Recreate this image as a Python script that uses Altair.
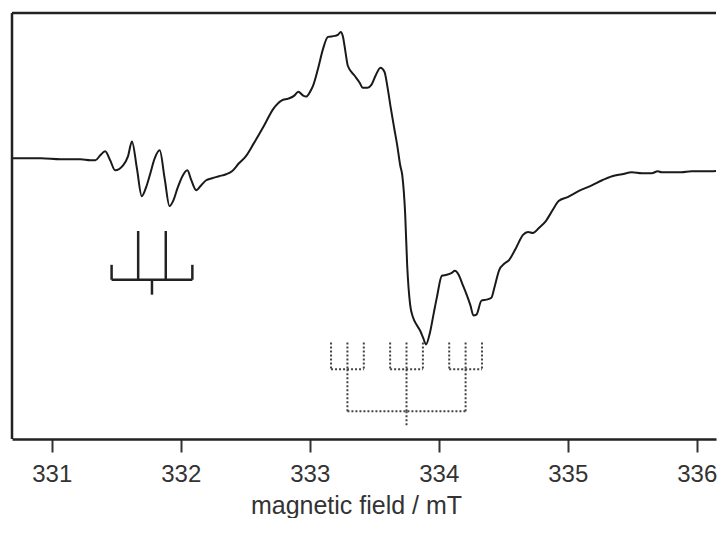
import altair as alt
import pandas as pd

# EPR spectrum: field (mT) and derivative intensity (arb. units)
field_mT = [
    330.693, 330.916, 331.069, 331.223, 331.299, 331.338, 331.376, 331.414, 331.453, 331.491,
    331.553, 331.591, 331.622, 331.660, 331.698, 331.729, 331.760, 331.798, 331.837, 331.875,
    331.913, 331.944, 331.975, 332.013, 332.051, 332.082, 332.120, 332.159, 332.197, 332.243,
    332.297, 332.351, 332.397, 332.451, 332.504, 332.566, 332.642, 332.719, 332.781, 332.834,
    332.880, 332.911, 332.949, 332.972, 333.003, 333.026, 333.064, 333.103, 333.141, 333.195,
    333.218, 333.241, 333.256, 333.279, 333.295, 333.348, 333.387, 333.410, 333.448, 333.479,
    333.510, 333.548, 333.579, 333.602, 333.625, 333.655, 333.678, 333.701, 333.717, 333.740,
    333.755, 333.778, 333.801, 333.832, 333.855, 333.878, 333.901, 333.932, 333.962, 333.985,
    334.024, 334.062, 334.101, 334.124, 334.154, 334.185, 334.216, 334.246, 334.269, 334.292,
    334.331, 334.369, 334.408, 334.431, 334.469, 334.507, 334.546, 334.599, 334.653, 334.692,
    334.730, 334.776, 334.830, 334.883, 334.929, 334.999, 335.083, 335.190, 335.267, 335.344,
    335.421, 335.497, 335.574, 335.651, 335.697, 335.728, 335.804, 335.881, 335.958, 336.035,
    336.111, 336.188,
]
intensity = [
    0, 0, -1, -1, -2, -2, 3, 7, -2, -12,
    -7, 2, 17, -10, -38, -30, -17, 0, 8, -20,
    -48, -42, -30, -18, -12, -22, -32, -27, -22, -20,
    -18, -16, -13, -5, 2, 15, 32, 50, 58, 60,
    63, 67, 63, 62, 67, 73, 90, 110, 122, 123,
    124, 127, 123, 105, 93, 83, 76, 71, 71, 74,
    83, 91, 87, 72, 53, 30, 13, -7, -17, -57,
    -107, -147, -160, -168, -173, -180, -187, -175, -155, -140,
    -118, -117, -115, -113, -117, -127, -137, -148, -158, -157,
    -143, -142, -140, -130, -112, -106, -102, -90, -77, -74,
    -75, -70, -63, -52, -43, -39, -33, -27, -22, -18,
    -16, -14, -15, -15, -13, -14, -14, -14, -13, -13,
    -13, -12,
]

# Solid stick diagram (left signal)
solid_x1 = [331.464, 331.464, 332.090, 331.670, 331.884, 331.777]
solid_x2 = [332.090, 331.464, 332.090, 331.670, 331.884, 331.777]
solid_y1 = [-122, -107, -107, -73, -73, -122]
solid_y2 = [-122, -122, -122, -122, -122, -137]

# Dotted stick diagram (right signal)
dot_x1 = [333.165, 333.292, 333.419, 333.623, 333.750, 333.877, 334.081, 334.208, 334.335,
          333.165, 333.623, 334.081,
          333.292, 333.750, 334.208,
          333.292, 333.750]
dot_x2 = [333.165, 333.292, 333.419, 333.623, 333.750, 333.877, 334.081, 334.208, 334.335,
          333.419, 333.877, 334.335,
          333.292, 333.750, 334.208,
          334.208, 333.750]
dot_y1 = [-185, -185, -185, -185, -185, -185, -185, -185, -185,
          -212, -212, -212,
          -212, -212, -212,
          -254, -254]
dot_y2 = [-212, -212, -212, -212, -212, -212, -212, -212, -212,
          -212, -212, -212,
          -254, -254, -254,
          -254, -269]

tick_values = [331, 332, 333, 334, 335, 336]
x_range = [330.692, 336.149]
y_range = [-282, 146]

curve = pd.DataFrame({"field": field_mT, "intensity": intensity})
solid_df = pd.DataFrame({"x1": solid_x1, "x2": solid_x2, "y1": solid_y1, "y2": solid_y2})
dot_df = pd.DataFrame({"x1": dot_x1, "x2": dot_x2, "y1": dot_y1, "y2": dot_y2})
one_row = pd.DataFrame({"k": [0]})

x_scale = alt.Scale(domain=x_range, nice=False, zero=False)
y_scale = alt.Scale(domain=y_range, nice=False, zero=False)

x_axis = alt.Axis(
    values=tick_values, format="d", grid=False,
    labelFont="Liberation Sans", labelFontSize=24, labelColor="#333",
    labelBaseline="alphabetic", labelPadding=29,
    tickSize=13, tickWidth=2, tickColor="#333",
    domainColor="#222", domainWidth=2.5,
    title="magnetic field / mT", titleFont="Liberation Sans", titleFontSize=25,
    titleFontWeight="normal", titleColor="#333",
    titleX=344, titleY=74, titleAlign="center", titleBaseline="alphabetic",
)

line = alt.Chart(curve).mark_line(
    color="#1a1a1a", strokeWidth=2, clip=True, interpolate="monotone"
).encode(
    x=alt.X("field:Q", scale=x_scale, axis=x_axis),
    y=alt.Y("intensity:Q", scale=y_scale, axis=None),
)

solid = alt.Chart(solid_df).mark_rule(color="#222", strokeWidth=2.5).encode(
    x=alt.X("x1:Q", scale=x_scale),
    x2="x2:Q",
    y=alt.Y("y1:Q", scale=y_scale),
    y2="y2:Q",
)

dotted = alt.Chart(dot_df).mark_rule(color="#444", strokeWidth=2, strokeDash=[2, 2]).encode(
    x=alt.X("x1:Q", scale=x_scale),
    x2="x2:Q",
    y=alt.Y("y1:Q", scale=y_scale),
    y2="y2:Q",
)

top_border = alt.Chart(one_row).mark_rule(color="#222", strokeWidth=2.5).encode(
    x=alt.X(datum=x_range[0], type="quantitative", scale=x_scale),
    x2=alt.X2(datum=x_range[1]),
    y=alt.Y(datum=y_range[1], type="quantitative", scale=y_scale),
)

left_border = alt.Chart(one_row).mark_rule(color="#222", strokeWidth=2.5).encode(
    x=alt.X(datum=x_range[0], type="quantitative", scale=x_scale),
    y=alt.Y(datum=y_range[0], type="quantitative", scale=y_scale),
    y2=alt.Y2(datum=y_range[1]),
)

chart = alt.layer(line, solid, dotted, top_border, left_border).properties(
    width=704, height=426,
    padding={"left": 2, "top": 3, "right": 0, "bottom": 0},
    background="white",
).configure_view(stroke=None)

chart.save("out.html", embed_options={"renderer": "svg", "actions": False})
